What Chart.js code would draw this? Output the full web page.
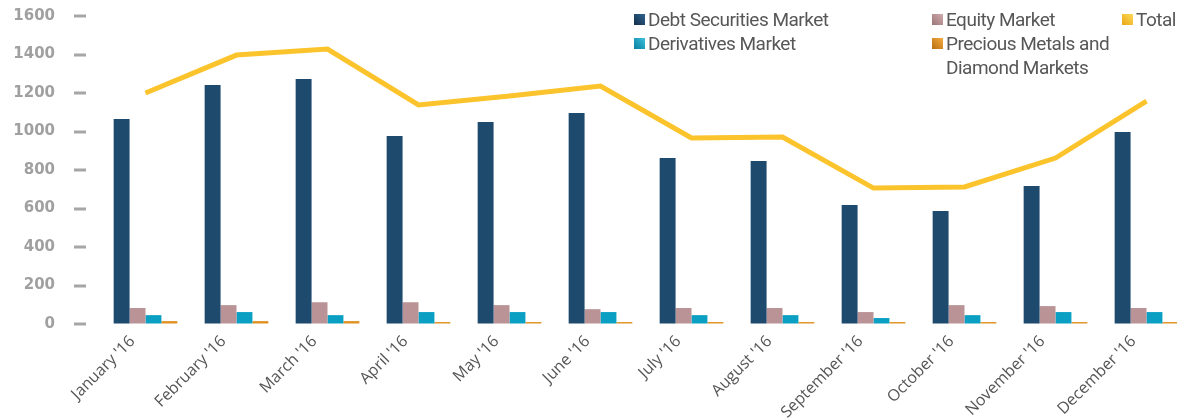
<!DOCTYPE html>
<html>
<head>
<meta charset="utf-8">
<script src="https://cdn.jsdelivr.net/npm/chart.js@4/dist/chart.umd.min.js"></script>
<style>
  html, body { margin: 0; padding: 0; background: #fff; overflow: hidden; }
  #wrap { position: relative; width: 1177px; height: 418px; overflow: hidden; }
  #box { position: absolute; left: 0; top: 0; width: 1192px; height: 418px; }
  .leg { position: absolute; font-family: Roboto, "Open Sans", sans-serif; font-size: 19px; letter-spacing: -0.5px; color: #575757; line-height: 24px; white-space: nowrap; }
  .leg i { position: absolute; left: -14px; top: 6.5px; width: 11px; height: 11px; }
</style>
</head>
<body>
<div id="wrap">
  <div id="box"><canvas id="chart"></canvas></div>
  <div id="legend"></div>
</div>
<script>
const months = ["January '16", "February '16", "March '16", "April '16", "May '16", "June '16",
  "July '16", "August '16", "September '16", "October '16", "November '16", "December '16"];
const debtSecurities = [1065, 1242, 1273, 977, 1049, 1096, 862, 847, 618, 587, 717, 997];
const equity = [83, 98, 113, 113, 98, 77, 83, 83, 62, 98, 93, 83];
const derivatives = [46, 62, 46, 62, 62, 62, 46, 46, 31, 46, 62, 62];
const preciousMetals = [15, 15, 15, 10, 10, 10, 10, 10, 10, 10, 10, 10];
const total = [1200, 1397, 1428, 1138, 1184, 1236, 966, 971, 706, 712, 862, 1158];
const yTicks = [0, 200, 400, 600, 800, 1000, 1200, 1400, 1600];

// little grey dashes left of the value axis
const tickDashes = {
  id: "tickDashes",
  afterDraw(chart) {
    const ctx = chart.ctx;
    const y = chart.scales.y;
    ctx.save();
    ctx.fillStyle = "#a6a6a6";
    y.ticks.forEach(t => {
      const py = y.getPixelForValue(t.value);
      ctx.fillRect(74, Math.round(py) - 1.5, 12, 3);
    });
    ctx.restore();
  },
};

const chart = new Chart(document.getElementById("chart"), {
  type: "bar",
  data: {
    labels: months,
    datasets: [
      {type: "line", label: "Total", data: total, borderColor: "#fbc32c", backgroundColor: "#fbc32c",
        borderWidth: 5, pointRadius: 0, tension: 0, order: 0, legendColor: ["#ffd95a", "#e8a812"], col: 2, row: 0},
      {label: "Debt Securities Market", data: debtSecurities, backgroundColor: "#1e4a6e", order: 1,
        legendColor: ["#2f6390", "#142f4a"], col: 0, row: 0},
      {label: "Equity Market", data: equity, backgroundColor: "#b99395", order: 1,
        legendColor: ["#d0abad", "#9c7577"], col: 1, row: 0},
      {label: "Derivatives Market", data: derivatives, backgroundColor: "#0ba0c3", order: 1,
        legendColor: ["#3dc0de", "#087f9c"], col: 0, row: 1},
      {label: "Precious Metals and Diamond Markets", data: preciousMetals, backgroundColor: "#e0901f", order: 1,
        legendColor: ["#f5ac40", "#b86e10"], col: 1, row: 1},
    ],
  },
  options: {
    responsive: true,
    maintainAspectRatio: false,
    animation: false,
    datasets: {bar: {categoryPercentage: 0.7, barPercentage: 1.0}},
    layout: {padding: {top: 16, left: 0, right: 0, bottom: 0}},
    plugins: {legend: {display: false}, tooltip: {enabled: false}},
    scales: {
      x: {
        offset: true,
        grid: {display: false},
        border: {display: false},
        ticks: {
          minRotation: 45, maxRotation: 45, padding: 0, labelOffset: -13,
          color: "#555", font: {family: "'Open Sans'", size: 16},
        },
        afterFit: s => { s.height = 94; },
      },
      y: {
        min: 0, max: 1600,
        afterBuildTicks: s => { s.ticks = yTicks.map(v => ({value: v})); },
        // invisible tick marks only to push the labels left
        grid: {display: true, drawOnChartArea: false, drawTicks: true, tickLength: 45, tickColor: "rgba(0,0,0,0)"},
        border: {display: false},
        ticks: {
          padding: 0, color: "#a0a0a0",
          font: {family: "'DejaVu Sans'", size: 15, weight: "bold"},
          callback: v => String(v),
        },
        afterFit: s => { s.width = 100; },
      },
    },
  },
  plugins: [tickDashes],
});

// html legend in three columns, like the original
const colX = [648, 946, 1136];
const rowY = [7.5, 31.5];
const legend = document.getElementById("legend");
chart.data.datasets.forEach(ds => {
  const el = document.createElement("div");
  el.className = "leg";
  el.style.left = colX[ds.col] + "px";
  el.style.top = rowY[ds.row] + "px";
  const sw = document.createElement("i");
  sw.style.background = `linear-gradient(45deg, ${ds.legendColor[1]}, ${ds.legendColor[0]})`;
  el.appendChild(sw);
  const label = ds.label === "Precious Metals and Diamond Markets"
    ? "Precious Metals and<br>Diamond Markets" : ds.label;
  el.insertAdjacentHTML("beforeend", label);
  legend.appendChild(el);
});
</script>
</body>
</html>
